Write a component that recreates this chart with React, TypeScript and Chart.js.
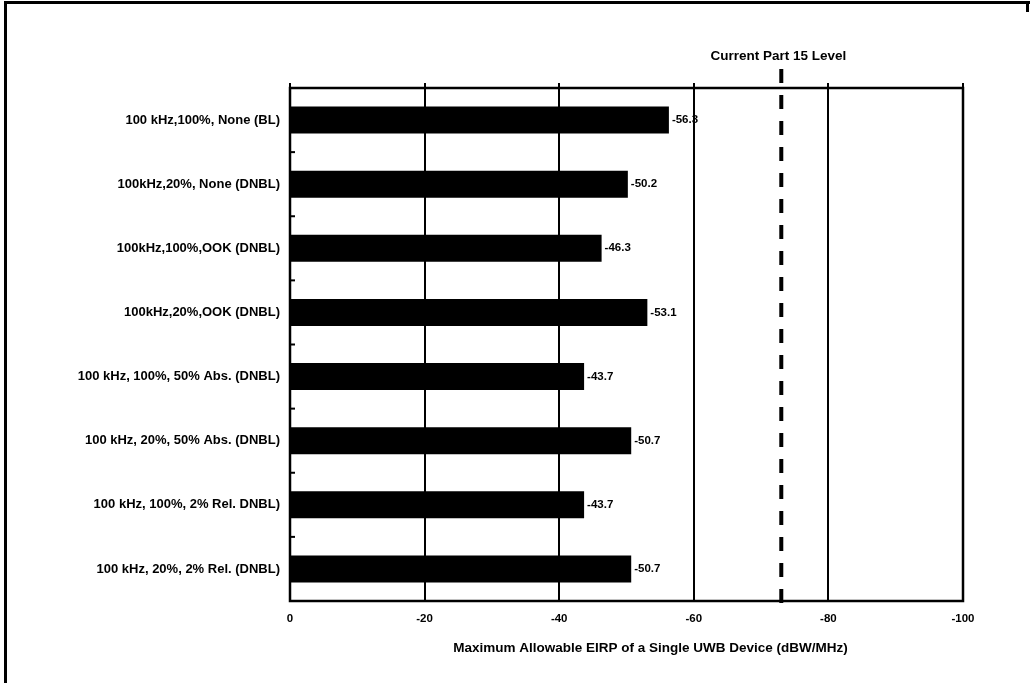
import React, { useEffect, useRef } from "react";
import { Chart, registerables } from "chart.js";

Chart.register(...registerables);

const categories: string[] = [
  "100 kHz,100%, None (BL)",
  "100kHz,20%, None (DNBL)",
  "100kHz,100%,OOK (DNBL)",
  "100kHz,20%,OOK (DNBL)",
  "100 kHz, 100%, 50% Abs. (DNBL)",
  "100 kHz, 20%, 50% Abs. (DNBL)",
  "100 kHz, 100%, 2% Rel. DNBL)",
  "100 kHz, 20%, 2% Rel. (DNBL)",
];

const eirpValues: number[] = [-56.3, -50.2, -46.3, -53.1, -43.7, -50.7, -43.7, -50.7];

const part15Level = -73;
const part15Label = "Current Part 15 Level";
const xAxisTitle = "Maximum Allowable EIRP of a Single UWB Device (dBW/MHz)";
const xMin = -100;
const xMax = 0;
const xStep = 20;

const FONT = "'Liberation Sans', Arial, Helvetica, sans-serif";

const decorPlugin = {
  id: "decor",
  afterDatasetsDraw(chart: any) {
    const { ctx, chartArea } = chart;
    const xs = chart.scales.x;
    const ys = chart.scales.y;
    const { left, right, top, bottom } = chartArea;

    ctx.save();
    // value labels
    ctx.fillStyle = "#000";
    ctx.font = `bold 11.5px ${FONT}`;
    ctx.textAlign = "left";
    ctx.textBaseline = "middle";
    const meta = chart.getDatasetMeta(0);
    meta.data.forEach((el: any, i: number) => {
      ctx.fillText(eirpValues[i].toFixed(1), el.x + 3, el.y);
    });

    // plot border
    ctx.strokeStyle = "#000";
    ctx.lineWidth = 2.5;
    ctx.setLineDash([]);
    ctx.strokeRect(left, top, right - left, bottom - top);

    // tick marks above top border
    ctx.lineWidth = 2;
    xs.ticks.forEach((t: any) => {
      const px = Math.round(xs.getPixelForValue(t.value));
      ctx.beginPath();
      ctx.moveTo(px, top - 5);
      ctx.lineTo(px, top);
      ctx.stroke();
    });

    // inward ticks on the category axis at boundaries
    ctx.lineWidth = 2;
    for (let i = 1; i < categories.length; i++) {
      const y = (ys.getPixelForValue(i - 1) + ys.getPixelForValue(i)) / 2;
      ctx.beginPath();
      ctx.moveTo(left, y);
      ctx.lineTo(left + 5, y);
      ctx.stroke();
    }

    // dashed Part 15 line
    const lx = xs.getPixelForValue(part15Level);
    ctx.lineWidth = 4;
    ctx.setLineDash([14, 12]);
    ctx.beginPath();
    ctx.moveTo(lx, top - 19);
    ctx.lineTo(lx, bottom + 4);
    ctx.stroke();
    ctx.setLineDash([]);

    ctx.font = `bold 13.5px ${FONT}`;
    ctx.textAlign = "center";
    ctx.textBaseline = "middle";
    ctx.fillText(part15Label, lx - 3, top - 32);

    // x-axis title
    ctx.fillText(xAxisTitle, (left + right) / 2 + 24, bottom + 47);

    // outer frame (left and top)
    ctx.lineWidth = 3;
    ctx.beginPath();
    ctx.moveTo(5.5, 683);
    ctx.lineTo(5.5, 2.5);
    ctx.lineTo(1030, 2.5);
    ctx.stroke();
    ctx.beginPath();
    ctx.moveTo(1027.5, 1);
    ctx.lineTo(1027.5, 12);
    ctx.stroke();
    ctx.restore();
  },
};

export default function App() {
  const ref = useRef<HTMLCanvasElement | null>(null);

  useEffect(() => {
    document.body.style.margin = "0";
    const canvas = ref.current;
    if (!canvas) return;
    Chart.defaults.font.family = FONT;
    Chart.defaults.color = "#000";
    const chart = new Chart(canvas, {
      type: "bar",
      data: {
        labels: categories,
        datasets: [
          {
            data: eirpValues,
            backgroundColor: "#000",
            borderWidth: 0,
            barPercentage: 0.42,
            categoryPercentage: 1,
          },
        ],
      },
      options: {
        indexAxis: "y",
        responsive: false,
        animation: false,
        devicePixelRatio: 1,
        layout: { padding: { top: 88, right: 67, left: 0, bottom: 0 } },
        plugins: {
          legend: { display: false },
          tooltip: { enabled: false },
        },
        scales: {
          x: {
            type: "linear",
            position: "bottom",
            min: xMin,
            max: xMax,
            reverse: true,
            ticks: {
              stepSize: xStep,
              color: "#000",
              font: { family: FONT, size: 11.5, weight: "bold" },
              padding: 11,
            },
            grid: {
              color: "#000",
              lineWidth: 2,
              drawTicks: false,
            },
            border: { display: false },
            title: { display: false },
            afterFit(scale: any) {
              scale.height = 82;
            },
          },
          y: {
            type: "category",
            ticks: {
              color: "#000",
              font: { family: FONT, size: 13, weight: "bold" },
              padding: 10,
            },
            grid: { display: false, drawTicks: false },
            border: { display: false },
            afterFit(scale: any) {
              scale.width = 290;
            },
          },
        },
      },
      plugins: [decorPlugin],
    });
    return () => chart.destroy();
  }, []);

  return (
    <canvas
      ref={ref}
      width={1030}
      height={683}
      style={{ display: "block", width: 1030, height: 683 }}
    />
  );
}
